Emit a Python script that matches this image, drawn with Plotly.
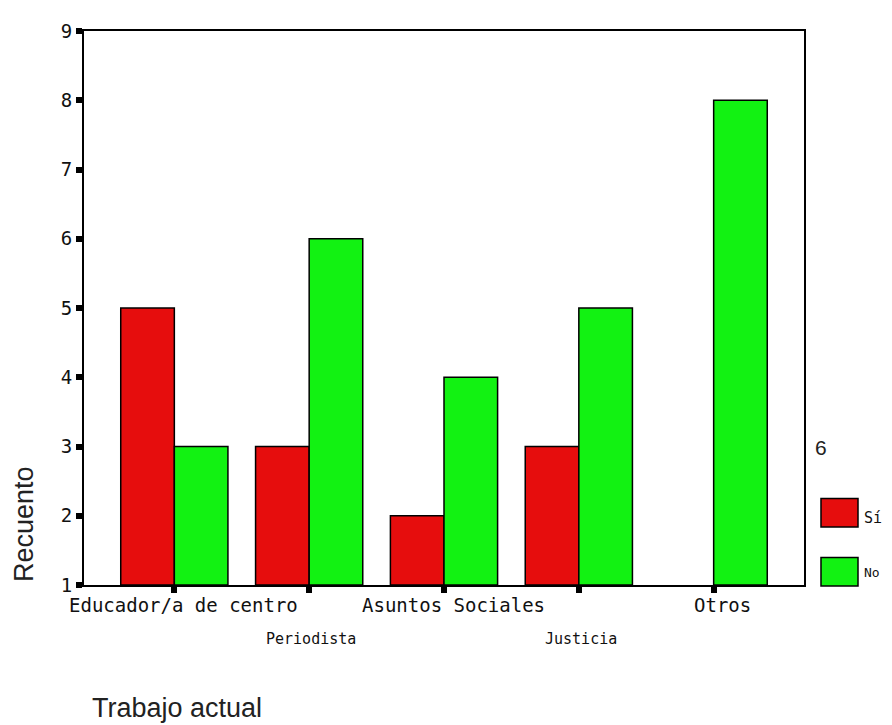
import plotly.graph_objects as go

categories = ["Educador/a de centro", "Periodista", "Asuntos Sociales", "Justicia", "Otros"]
si_values = [5, 3, 2, 3, None]
no_values = [3, 6, 4, 5, 8]
y_ticks = [1, 2, 3, 4, 5, 6, 7, 8, 9]
series_names = ["Sí", "No"]
legend_title = "6"

BASE = 1
RED = "#E60D0D"
GREEN = "#12F212"

def lengths(vals):
    return [None if v is None else v - BASE for v in vals]

fig = go.Figure()
fig.add_trace(go.Bar(x=categories, y=lengths(si_values), base=BASE, name=series_names[0],
                     marker=dict(color=RED, line=dict(color="black", width=1.5))))
fig.add_trace(go.Bar(x=categories, y=lengths(no_values), base=BASE, name=series_names[1],
                     marker=dict(color=GREEN, line=dict(color="black", width=1.5))))

tick_font = dict(family="DejaVu Sans Mono", size=19, color="#111")
small_font = dict(family="DejaVu Sans Mono", size=15, color="#111")
title_font = dict(family="Liberation Sans", size=27, color="#222")

annotations = []
for i, c in enumerate(categories):
    top = i % 2 == 0
    annotations.append(dict(x=c, xref="x", yref="paper", y=-0.0355 if top else -0.0977,
                            text=c, showarrow=False,
                            font=tick_font if top else small_font,
                            xshift=9 if top else 2,
                            xanchor="center", yanchor="middle"))

annotations += [
    dict(text="Recuento", xref="paper", yref="paper", x=-0.0833, y=0.110, textangle=-90,
         showarrow=False, font=title_font, xanchor="center", yanchor="middle"),
    dict(text="Trabajo actual", xref="paper", yref="paper", x=0.0083, y=-0.222,
         showarrow=False, font=title_font, xanchor="left", yanchor="middle"),
    dict(text=legend_title, xref="paper", yref="paper", x=1.0125, y=0.2487,
         showarrow=False, font=dict(family="Liberation Sans", size=21, color="#222"),
         xanchor="left", yanchor="middle"),
    dict(text=series_names[0], xref="paper", yref="paper", x=1.081, y=0.1208,
         showarrow=False, font=small_font, xanchor="left", yanchor="middle"),
    dict(text=series_names[1], xref="paper", yref="paper", x=1.081, y=0.0231,
         showarrow=False, font=dict(family="DejaVu Sans Mono", size=13, color="#111"),
         xanchor="left", yanchor="middle"),
]

shapes = [
    dict(type="rect", xref="paper", yref="paper", x0=1.0236, x1=1.075, y0=0.1048, y1=0.1563,
         fillcolor=RED, line=dict(color="black", width=1.5)),
    dict(type="rect", xref="paper", yref="paper", x0=1.0236, x1=1.075, y0=-0.0018, y1=0.0497,
         fillcolor=GREEN, line=dict(color="black", width=1.5)),
]

fig.update_layout(
    width=884, height=717,
    margin=dict(l=76, r=88, t=14, b=140),
    paper_bgcolor="white", plot_bgcolor="white",
    barmode="group", bargap=0.205, bargroupgap=0,
    showlegend=False,
    annotations=annotations,
    shapes=shapes,
    xaxis=dict(type="category", range=[-0.67, 4.67], showticklabels=False,
               ticks="outside", ticklen=6, tickwidth=6, tickcolor="black",
               showline=True, linecolor="black", linewidth=2, mirror=True,
               showgrid=False, zeroline=False),
    yaxis=dict(range=[1, 9], tickvals=y_ticks, ticks="outside", ticklen=6, tickwidth=6,
               tickcolor="black", tickfont=tick_font,
               showline=True, linecolor="black", linewidth=2, mirror=True,
               showgrid=False, zeroline=False),
)

fig.write_html("out.html")
